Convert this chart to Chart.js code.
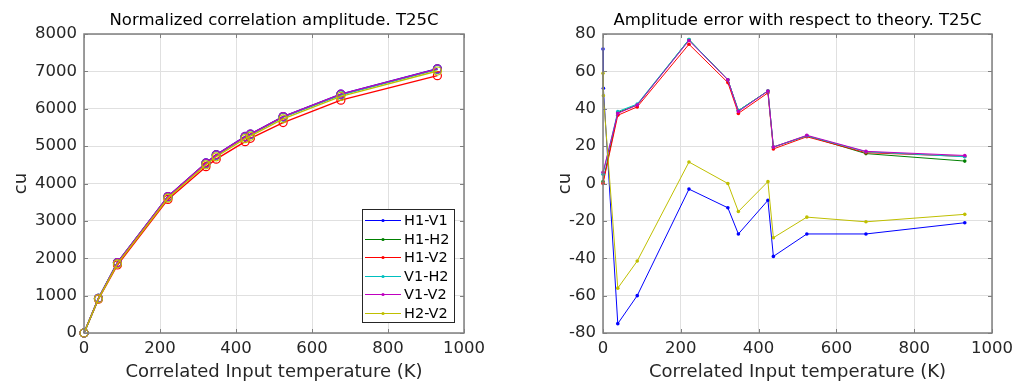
<!DOCTYPE html>
<html><head><meta charset="utf-8">
<script src="https://cdn.jsdelivr.net/npm/chart.js@4"></script>
<style>
html,body{margin:0;padding:0;background:#fff;}
#wrap{position:relative;width:1029px;height:385px;overflow:hidden;background:#fff;}
canvas{position:absolute;top:0;}
#c1{left:0;} #c2{left:510px;}
</style></head><body>
<div id="wrap"><canvas id="c1" width="500" height="385"></canvas><canvas id="c2" width="519" height="385"></canvas></div>
<script>
// ---- data ----
const seriesNames = ['H1-V1','H1-H2','H1-V2','V1-H2','V1-V2','H2-V2'];
const seriesColors = ['#0000ff','#008000','#ff0000','#00bfbf','#bf00bf','#bfbf00'];

const tempK = [0, 38, 88, 221, 321, 348, 424, 438, 524, 676, 930];
const ampH1V1 = [0, 930, 1885, 3650, 4550, 4770, 5260, 5320, 5790, 6390, 7070];
const ampH1H2 = [0, 925, 1880, 3645, 4540, 4760, 5250, 5315, 5785, 6380, 7060];
const ampH1V2 = [0, 905, 1820, 3575, 4450, 4650, 5120, 5210, 5630, 6230, 6885];
const ampV1H2 = [0, 925, 1880, 3640, 4535, 4755, 5250, 5310, 5780, 6375, 7055];
const ampV1V2 = [0, 930, 1885, 3650, 4545, 4765, 5255, 5320, 5790, 6390, 7065];
const ampH2V2 = [0, 915, 1850, 3610, 4500, 4715, 5200, 5265, 5730, 6330, 7010];

const errTempK = [0, 1, 38, 88, 221, 321, 348, 424, 438, 524, 676, 930];
const errH1V1 = [72, 51, -75, -60, -3, -13, -27, -9, -39, -27, -27, -21];
const errH1H2 = [1, null, 38, 42, 77, 55.5, 39, 49.5, 19.5, 25.5, 16, 12];
const errH1V2 = [0, null, 36.5, 41, 74.5, 54, 37.5, 48.5, 18.5, 25, 16.5, 14.5];
const errV1H2 = [5, null, 38.5, 42.5, 77, 55.5, 39, 49.5, 19.5, 25.5, 17, 14.3];
const errV1V2 = [6, null, 37.5, 42, 76.5, 55.5, 38.5, 49.5, 19.5, 25.8, 17.2, 15];
const errH2V2 = [59, 47, -56, -41.5, 11.5, 0, -15, 1, -29, -18, -20.5, -16.5];

const xTicks = [0, 200, 400, 600, 800, 1000];
const ampTicks = [0, 1000, 2000, 3000, 4000, 5000, 6000, 7000, 8000];
const errTicks = [-80, -60, -40, -20, 0, 20, 40, 60, 80];

const title1 = 'Normalized correlation amplitude. T25C';
const title2 = 'Amplitude error with respect to theory. T25C';
const xLabel = 'Correlated Input temperature (K)';
const yLabel = 'cu';

// ---- styling ----
const FONT = 'DejaVu Sans';
const TXT = '#262626';
const GRID = '#e0e0e0';
const AXIS = '#7f7f7f';

function pts(xs, ys){ const out=[]; for(let i=0;i<xs.length;i++){ if(ys[i]!==null) out.push({x:xs[i], y:ys[i]}); } return out; }

const boxFrame = {
  id:'boxFrame',
  afterDatasetsDraw(chart){
    const {ctx, chartArea:a, scales} = chart;
    ctx.save();
    ctx.strokeStyle = AXIS; ctx.lineWidth = 1.5;
    ctx.strokeRect(a.left, a.top, a.right-a.left, a.bottom-a.top);
    const tl = 4;
    ctx.lineWidth = 1;
    ctx.beginPath();
    scales.x.ticks.forEach(t=>{ const px = Math.round(scales.x.getPixelForValue(t.value))+0.5;
      ctx.moveTo(px, a.bottom); ctx.lineTo(px, a.bottom-tl);
      ctx.moveTo(px, a.top); ctx.lineTo(px, a.top+tl); });
    scales.y.ticks.forEach(t=>{ const py = Math.round(scales.y.getPixelForValue(t.value))+0.5;
      ctx.moveTo(a.left, py); ctx.lineTo(a.left+tl, py);
      ctx.moveTo(a.right, py); ctx.lineTo(a.right-tl, py); });
    ctx.stroke();
    ctx.restore();
  }
};

const boxLegend = {
  id:'boxLegend',
  afterDraw(chart, args, opts){
    if(!opts || !opts.show) return;
    const {ctx, chartArea:a} = chart;
    const w = 92, h = 113;
    const x = a.right - 10 - w, y = a.bottom - 11 - h;
    ctx.save();
    ctx.fillStyle = '#fff'; ctx.fillRect(x, y, w, h);
    ctx.strokeStyle = '#262626'; ctx.lineWidth = 1;
    ctx.strokeRect(x+0.5, y+0.5, w, h);
    ctx.font = '14.5px "' + FONT + '"';
    ctx.textBaseline = 'middle'; ctx.textAlign = 'left';
    chart.data.datasets.forEach((ds, i)=>{
      const cy = Math.round(y + 11 + i*18.6) + 0.5;
      ctx.strokeStyle = seriesColors[i]; ctx.lineWidth = 1;
      ctx.beginPath(); ctx.moveTo(x+3, cy); ctx.lineTo(x+39, cy); ctx.stroke();
      ctx.fillStyle = seriesColors[i];
      ctx.beginPath(); ctx.arc(x+21, cy, 1.6, 0, Math.PI*2); ctx.fill();
      ctx.fillStyle = '#000';
      ctx.fillText(seriesNames[i], x+42, cy+0.5);
    });
    ctx.restore();
  }
};

function makeOptions(cfg){
  return {
    responsive:false, animation:false, devicePixelRatio:1,
    layout:{padding:{left:0, right:cfg.padRight, top:0, bottom:0}},
    plugins:{
      legend:{display:false}, tooltip:{enabled:false},
      title:{display:true, text:cfg.title, fullSize:false, color:'#000',
        font:{family:FONT, size:16.5, weight:'normal'}, padding:{top:10.8, bottom:3.4}},
      boxLegend:{show:cfg.legend}
    },
    scales:{
      x:{type:'linear', min:0, max:1000,
        afterBuildTicks:s=>{ s.ticks = xTicks.map(v=>({value:v})); },
        afterFit:s=>{ s.height = 52; },
        grid:{color:GRID, drawTicks:false, lineWidth:1},
        border:{display:false},
        ticks:{color:TXT, padding:6, font:{family:FONT, size:16.5}, maxRotation:0, callback:v=>String(v)},
        title:{display:true, text:xLabel, color:TXT, font:{family:FONT, size:18}, padding:{top:0, bottom:2.2}}
      },
      y:{type:'linear', min:cfg.yTicks[0], max:cfg.yTicks[cfg.yTicks.length-1],
        afterBuildTicks:s=>{ s.ticks = cfg.yTicks.map(v=>({value:v})); },
        afterFit:s=>{ s.width = cfg.yWidth; },
        grid:{color:GRID, drawTicks:false, lineWidth:1},
        border:{display:false},
        ticks:{color:TXT, padding:7, font:{family:FONT, size:16.5}, callback:v=>String(v)},
        title:{display:true, text:yLabel, color:TXT, font:{family:FONT, size:18}, padding:{top:cfg.yTitlePad, bottom:0}}
      }
    }
  };
}

const ampSeries = [ampH1V1, ampH1H2, ampH1V2, ampV1H2, ampV1V2, ampH2V2];
const errSeries = [errH1V1, errH1H2, errH1V2, errV1H2, errV1V2, errH2V2];

new Chart(document.getElementById('c1'), {
  type:'line',
  data:{datasets: ampSeries.map((s,i)=>({
    label:seriesNames[i], data:pts(tempK, s), order:6-i, clip:false,
    borderColor:seriesColors[i], backgroundColor:'rgba(0,0,0,0)', borderWidth:1.4,
    pointRadius:4, pointBorderWidth:1.2, pointBorderColor:seriesColors[i], pointBackgroundColor:'rgba(0,0,0,0)',
    tension:0, spanGaps:true
  }))},
  options: makeOptions({title:title1, yTicks:ampTicks, yWidth:84, yTitlePad:10.2, padRight:36, legend:true}),
  plugins:[boxFrame, boxLegend]
});

new Chart(document.getElementById('c2'), {
  type:'line',
  data:{datasets: errSeries.map((s,i)=>({
    label:seriesNames[i], data:pts(errTempK, s), order:6-i, clip:false,
    borderColor:seriesColors[i], backgroundColor:seriesColors[i], borderWidth:1,
    pointRadius:1.8, pointBorderWidth:0, pointBackgroundColor:seriesColors[i],
    tension:0, spanGaps:true
  }))},
  options: makeOptions({title:title2, yTicks:errTicks, yWidth:93, yTitlePad:45, padRight:37, legend:false}),
  plugins:[boxFrame]
});
</script>
</body></html>
